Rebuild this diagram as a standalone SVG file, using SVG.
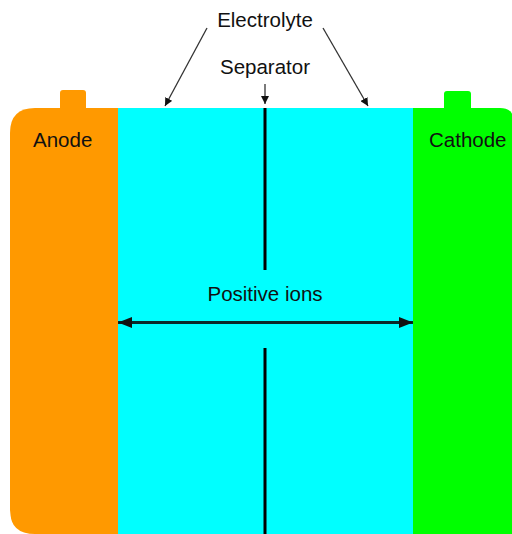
<svg xmlns="http://www.w3.org/2000/svg" width="512" height="534" viewBox="0 0 512 534">
<defs>
<style>
text{font-family:"Liberation Sans",Arial,sans-serif;font-size:20.5px;fill:#111}
.thin{stroke:#333;stroke-width:1.3;fill:none}
</style>
<marker id="sm" viewBox="0 0 10 10" refX="10" refY="5" markerWidth="8" markerHeight="8" markerUnits="userSpaceOnUse" orient="auto"><path d="M0,0L10,5L0,10z" fill="#111"/></marker>
<marker id="big" viewBox="0 0 10 10" refX="10" refY="5" markerWidth="14" markerHeight="11" markerUnits="userSpaceOnUse" orient="auto-start-reverse" preserveAspectRatio="none"><path d="M0,0L10,5L0,10z" fill="#111"/></marker>
</defs>
<rect width="512" height="534" fill="#fff"/>
<g id="anode">
<rect x="60" y="90" width="26" height="24" rx="3" fill="#FF9900"/>
<path d="M35,108H118V534H35Q10,534 10,510V133Q10,108 35,108Z" fill="#FF9900"/>
<path d="M10,510Q10,534 30,534H10Z" fill="#fff"/>
<text x="33" y="147">Anode</text>
</g>
<g id="cathode">
<rect x="444" y="91" width="27" height="22" rx="3" fill="#00FF00"/>
<path d="M413,108H500Q514,108 514,122V534H413Z" fill="#00FF00"/>
<text x="429" y="147">Cathode</text>
</g>
<g id="electrolyte">
<rect x="118" y="108" width="295" height="426" fill="#00FFFF"/>
</g>
<g id="separator">
<rect x="263.5" y="108" width="3" height="162" fill="#000"/>
<rect x="263.5" y="348" width="3" height="186" fill="#000"/>
</g>
<g id="labels">
<text x="265" y="27" text-anchor="middle">Electrolyte</text>
<text x="265" y="74" text-anchor="middle">Separator</text>
<text x="265" y="301" text-anchor="middle">Positive ions</text>
</g>
<g id="connectors">
<line class="thin" x1="207" y1="28" x2="165" y2="106" marker-end="url(#sm)"/>
<line class="thin" x1="323" y1="28" x2="368" y2="106" marker-end="url(#sm)"/>
<line class="thin" x1="265" y1="84" x2="265" y2="104" marker-end="url(#sm)"/>
<line x1="118" y1="322.5" x2="413" y2="322.5" stroke="#0a2a2a" stroke-width="3" marker-start="url(#big)" marker-end="url(#big)"/>
</g>
</svg>
